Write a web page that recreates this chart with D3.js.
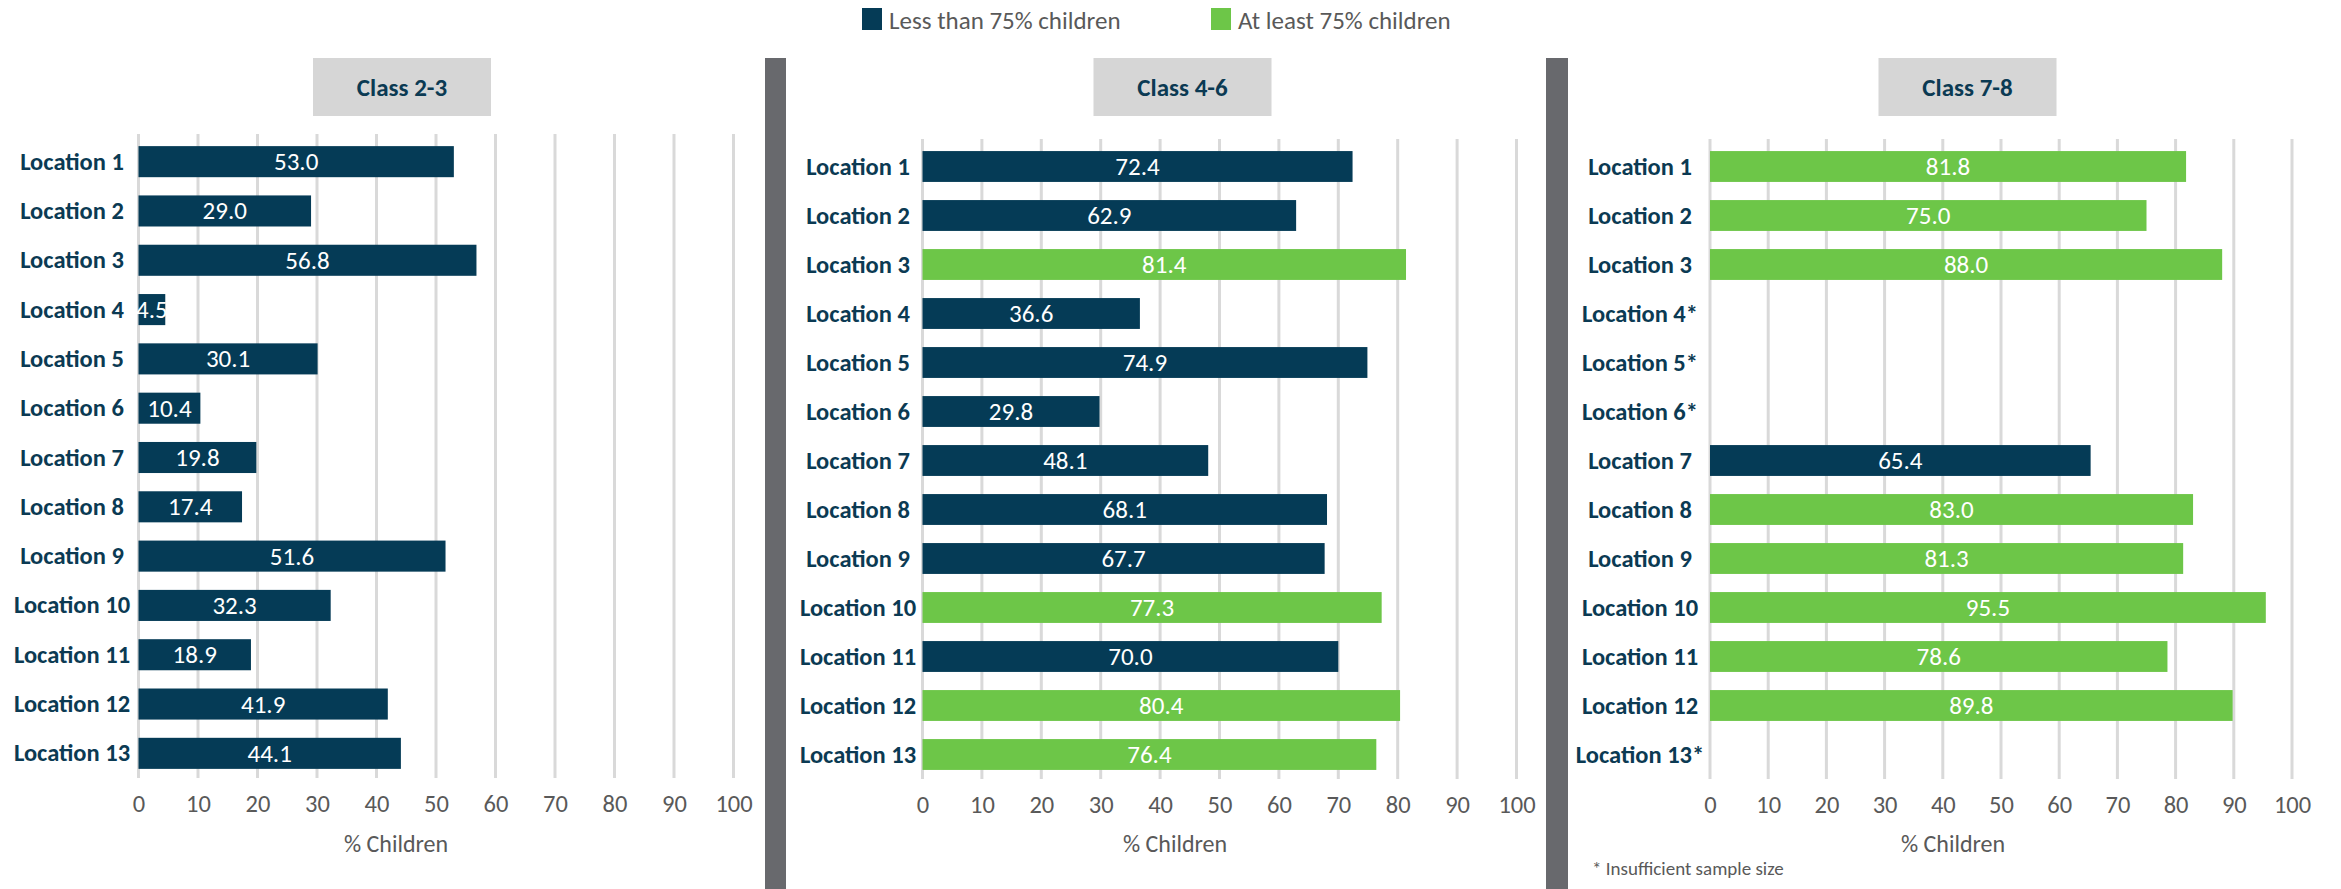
<!DOCTYPE html>
<html>
<head>
<meta charset="utf-8">
<script src="https://cdn.jsdelivr.net/npm/d3@7"></script>
<style>
  body { margin: 0; background: #ffffff; }
  svg { display: block; }
  text { font-family: Carlito, Calibri, "Liberation Sans Narrow", "Open Sans", sans-serif; }
</style>
</head>
<body>
<svg id="chart" width="2341" height="889"></svg>
<script>
// ---- data ----
const locations = ["Location 1", "Location 2", "Location 3", "Location 4", "Location 5",
  "Location 6", "Location 7", "Location 8", "Location 9", "Location 10",
  "Location 11", "Location 12", "Location 13"];
const classGroups = ["Class 2-3", "Class 4-6", "Class 7-8"];
const class23 = [53.0, 29.0, 56.8, 4.5, 30.1, 10.4, 19.8, 17.4, 51.6, 32.3, 18.9, 41.9, 44.1];
const class46 = [72.4, 62.9, 81.4, 36.6, 74.9, 29.8, 48.1, 68.1, 67.7, 77.3, 70.0, 80.4, 76.4];
// null = insufficient sample size
const class78 = [81.8, 75.0, 88.0, null, null, null, 65.4, 83.0, 81.3, 95.5, 78.6, 89.8, null];
const xTicks = [0, 10, 20, 30, 40, 50, 60, 70, 80, 90, 100];
const legendLabels = ["Less than 75% children", "At least 75% children"];
const threshold = 75;
const axisTitle = "% Children";
const footnote = "* Insufficient sample size";

// ---- styling ----
const NAVY = "#053b56";
const GREEN = "#6dc648";
const GRID = "#d9d9d9";
const GREY_TEXT = "#595959";
const LABEL_NAVY = "#0b3a53";
const DIVIDER = "#68696d";
const BOX = "#d6d6d6";
const FONT = 'Carlito, Calibri, "Liberation Sans Narrow", "Open Sans", sans-serif';

const svg = d3.select("#chart");

const color = d3.scaleOrdinal().domain(legendLabels).range([NAVY, GREEN]);
const groupOf = v => v >= threshold ? legendLabels[1] : legendLabels[0];

// panel geometry
const panels = [
  { title: classGroups[0], values: class23, x0: 138.5, x1: 733.5, y0: 137, y1: 778, labelX: 72,   boxX: 402,    titleX: 396 },
  { title: classGroups[1], values: class46, x0: 922.5, x1: 1516.5, y0: 142, y1: 779, labelX: 858, boxX: 1182.5, titleX: 1175 },
  { title: classGroups[2], values: class78, x0: 1710,  x1: 2292,   y0: 142, y1: 779, labelX: 1640, boxX: 1967.5, titleX: 1953 }
];

// vertical separators between panels
[[765, 21], [1546, 22]].forEach(([x, w]) => {
  svg.append("rect").attr("x", x).attr("y", 58).attr("width", w).attr("height", 889 - 58).attr("fill", DIVIDER);
});

panels.forEach((p, pi) => {
  const g = svg.append("g");
  const x = d3.scaleLinear().domain([0, 100]).range([p.x0, p.x1]);
  const y = d3.scaleBand().domain(locations).range([p.y0, p.y1]).paddingInner(0.37).paddingOuter(0.185);

  // title box
  g.append("rect").attr("x", p.boxX - 89).attr("y", 58).attr("width", 178).attr("height", 58).attr("fill", BOX);
  g.append("text").attr("x", p.boxX).attr("y", 87).attr("text-anchor", "middle").attr("dominant-baseline", "central")
    .attr("font-size", 25).attr("font-weight", "bold").attr("fill", LABEL_NAVY).text(p.title);

  // vertical gridlines
  g.selectAll("line.grid").data(xTicks).join("line").attr("class", "grid")
    .attr("x1", d => x(d)).attr("x2", d => x(d))
    .attr("y1", p.y0 - 3).attr("y2", p.y1)
    .attr("stroke", GRID).attr("stroke-width", 3);

  // x axis tick labels
  const axis = g.append("g").attr("transform", `translate(0,${p.y1})`)
    .call(d3.axisBottom(x).tickValues(xTicks).tickSize(0).tickPadding(17));
  axis.select(".domain").remove();
  axis.selectAll("text").attr("font-size", 24.5).attr("fill", GREY_TEXT).style("font-family", FONT);

  // axis title
  g.append("text").attr("x", p.titleX).attr("y", 843).attr("text-anchor", "middle").attr("dominant-baseline", "central")
    .attr("font-size", 24).attr("fill", GREY_TEXT).text(axisTitle);

  const rows = locations.map((loc, i) => ({ loc, v: p.values[i] }));

  // category labels
  g.selectAll("text.cat").data(rows).join("text").attr("class", "cat")
    .attr("x", p.labelX).attr("y", d => y(d.loc) + y.bandwidth() / 2)
    .attr("text-anchor", "middle").attr("dominant-baseline", "central")
    .attr("font-size", 24.5).attr("font-weight", "bold").attr("fill", LABEL_NAVY)
    .text(d => d.v == null ? d.loc + "*" : d.loc);

  const bars = rows.filter(d => d.v != null);

  g.selectAll("rect.bar").data(bars).join("rect").attr("class", "bar")
    .attr("x", x(0)).attr("y", d => y(d.loc))
    .attr("width", d => x(d.v) - x(0)).attr("height", y.bandwidth())
    .attr("fill", d => color(groupOf(d.v)));

  g.selectAll("text.val").data(bars).join("text").attr("class", "val")
    .attr("x", d => (x(0) + x(d.v)) / 2).attr("y", d => y(d.loc) + y.bandwidth() / 2)
    .attr("text-anchor", "middle").attr("dominant-baseline", "central")
    .attr("font-size", 25).attr("fill", "#ffffff")
    .text(d => d3.format(".1f")(d.v));

  if (pi === 2) {
    g.append("text").attr("x", 1592).attr("y", 868).attr("dominant-baseline", "central")
      .attr("font-size", 19).attr("fill", GREY_TEXT).text(footnote);
  }
});

// legend
const legendPos = [862, 1211];
legendLabels.forEach((lab, i) => {
  svg.append("rect").attr("x", legendPos[i]).attr("y", 8).attr("width", 20).attr("height", 22).attr("fill", color(lab));
  svg.append("text").attr("x", legendPos[i] + 27).attr("y", 20).attr("dominant-baseline", "central")
    .attr("font-size", 25).attr("fill", GREY_TEXT).text(lab);
});
</script>
</body>
</html>
